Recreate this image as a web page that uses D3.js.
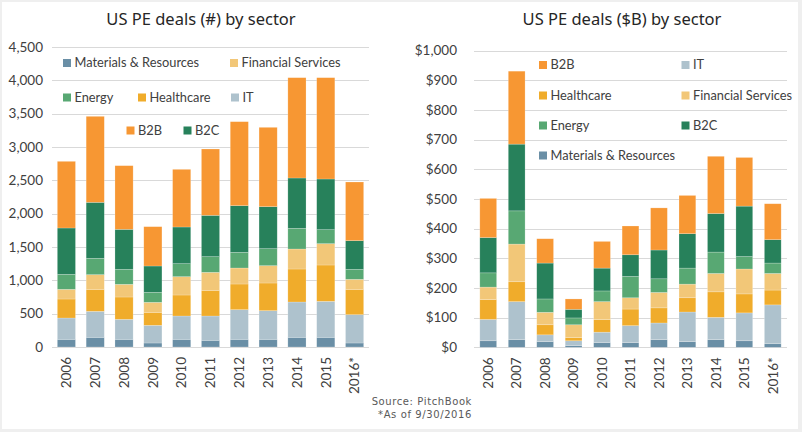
<!DOCTYPE html>
<html><head><meta charset="utf-8">
<script src="https://cdn.jsdelivr.net/npm/d3@7/dist/d3.min.js"></script>
<style>
html,body{margin:0;padding:0;background:#efefef;}
svg{display:block;}
</style></head>
<body>
<svg id="c" width="802" height="432"></svg>
<script>
const years = ["2006","2007","2008","2009","2010","2011","2012","2013","2014","2015","2016*"];
const sectors = ["Materials & Resources","IT","Healthcare","Financial Services","Energy","B2C","B2B"];
const colors = ["#6a8fa6","#aec2cd","#f0ac2b","#f2c778","#58a873","#27815b","#f79733"];

// Deal counts (#), per sector, stacked bottom-up
const countMR  = [115,145,115,60,115,100,115,115,145,145,60];
const countIT  = [320,390,300,265,350,365,445,430,530,540,425];
const countHC  = [285,330,335,195,315,385,385,415,495,545,380];
const countFS  = [145,220,190,150,275,270,240,260,300,320,150];
const countEn  = [225,245,225,150,195,235,235,255,310,210,150];
const countB2C = [695,840,600,395,550,620,700,630,755,760,430];
const countB2B = [1000,1290,955,590,865,995,1260,1190,1505,1520,880];

// Deal value ($B), per sector, stacked bottom-up
const valMR  = [22,26,19,6,16,16,26,19,26,22,12];
const valIT  = [72,128,23,16,35,57,56,100,75,94,131];
const valHC  = [67,67,34,11,42,56,51,48,86,64,50];
const valFS  = [42,127,42,43,61,38,52,46,62,84,56];
const valEn  = [48,112,45,23,36,72,46,54,72,42,35];
const valB2C = [119,225,121,29,77,73,97,116,130,170,79];
const valB2B = [132,246,82,35,90,97,142,129,193,164,121];

const countSeries = [countMR,countIT,countHC,countFS,countEn,countB2C,countB2B];
const valSeries = [valMR,valIT,valHC,valFS,valEn,valB2C,valB2B];

const yTicksLeft = [0,500,1000,1500,2000,2500,3000,3500,4000,4500];
const yTicksRight = [0,100,200,300,400,500,600,700,800,900,1000];

// legend entries: name, column slot, row
const legendLeft = [
  ["Materials & Resources",0,0],["Financial Services",3,0],
  ["Energy",0,1],["Healthcare",1,1],["IT",4,1],
  ["B2B",2,2],["B2C",5,2]
];
const legendRight = [
  ["B2B",0,0],["IT",1,0],["Healthcare",0,1],["Financial Services",1,1],
  ["Energy",0,2],["B2C",1,2],["Materials & Resources",0,3]
];

const svg = d3.select("#c");
svg.append("rect").attr("x",2).attr("y",2).attr("width",796).attr("height",427).attr("fill","#ffffff");

const FONT = "Lato, 'Open Sans', sans-serif";
const TXT = "#404040";

function drawChart(cfg){
  const g = svg.append("g");
  const x = d3.scaleBand().domain(years).range([cfg.x0,cfg.x1]).paddingInner(cfg.pad).paddingOuter(cfg.pad/2);
  const y = d3.scaleLinear().domain([0,cfg.max]).range([cfg.yb,cfg.yt]);
  g.append("g").selectAll("line").data(cfg.ticks).join("line")
    .attr("x1",cfg.x0).attr("x2",cfg.x1)
    .attr("y1",d=>Math.round(y(d))+0.5).attr("y2",d=>Math.round(y(d))+0.5)
    .attr("stroke","#d9d9d9").attr("stroke-width",1);
  g.append("g").selectAll("text").data(cfg.ticks).join("text")
    .attr("x",cfg.labelX).attr("y",d=>y(d)).attr("dy","0.35em")
    .attr("text-anchor","end").attr("font-family",FONT).attr("font-size",13.5)
    .attr("fill",TXT).text(cfg.fmt);
  const rows = years.map((yr,i)=>{const o={year:yr}; sectors.forEach((s,j)=>o[s]=cfg.series[j][i]); return o;});
  const stack = d3.stack().keys(sectors)(rows);
  g.append("g").selectAll("g").data(stack).join("g")
    .attr("fill",(d,i)=>colors[i])
    .selectAll("rect").data(d=>d).join("rect")
    .attr("x",d=>x(d.data.year)).attr("width",x.bandwidth())
    .attr("y",d=>y(d[1])).attr("height",d=>y(d[0])-y(d[1]))
    .attr("stroke","rgba(255,255,255,0.35)").attr("stroke-width",0.6);
  g.append("g").selectAll("text").data(years).join("text")
    .attr("transform",d=>`translate(${x(d)+x.bandwidth()/2},${cfg.yb+10}) rotate(-90)`)
    .attr("dy","0.35em").attr("text-anchor","end")
    .attr("font-family",FONT).attr("font-size",13.5).attr("fill",TXT).text(d=>d);
  g.append("text").attr("x",cfg.titleX).attr("y",25).attr("text-anchor","middle")
    .attr("font-family","'Noto Sans', sans-serif").attr("font-size",16.5).attr("fill","#262626")
    .text(cfg.title);
  const lg = g.append("g");
  cfg.legend.forEach(([name,col,row])=>{
    const lx = cfg.legCols[col], ly = cfg.legRows[row];
    const idx = sectors.indexOf(name);
    lg.append("rect").attr("x",lx).attr("y",ly-4).attr("width",8).attr("height",8).attr("fill",colors[idx]);
    lg.append("text").attr("x",lx+11.5).attr("y",ly).attr("dy","0.35em")
      .attr("font-family",FONT).attr("font-size",12.8).attr("fill",TXT).text(name);
  });
}

drawChart({x0:52,x1:369,pad:0.37,max:4500,yb:347,yt:47,ticks:yTicksLeft,labelX:43,
  fmt:d3.format(","),series:countSeries,title:"US PE deals (#) by sector",titleX:201,
  legend:legendLeft,legCols:[63,138,126.5,230,231,183.5],legRows:[63,97.5,130.5]});
drawChart({x0:474,x1:787,pad:0.41,max:1000,yb:347.3,yt:50.7,ticks:yTicksRight,labelX:457,
  fmt:d=>"$"+d3.format(",")(d),series:valSeries,title:"US PE deals ($B) by sector",titleX:622,
  legend:legendRight,legCols:[539,681.5],legRows:[65,95.5,125.5,155.5]});

const note = svg.append("g").attr("font-family","'DejaVu Sans', sans-serif").attr("font-size",10).attr("fill","#595959").attr("text-anchor","end");
note.append("text").attr("x",472).attr("y",405).attr("letter-spacing",0.6).text("Source: PitchBook");
note.append("text").attr("x",472).attr("y",418).attr("letter-spacing",0.6).text("*As of 9/30/2016");
</script>
</body></html>
